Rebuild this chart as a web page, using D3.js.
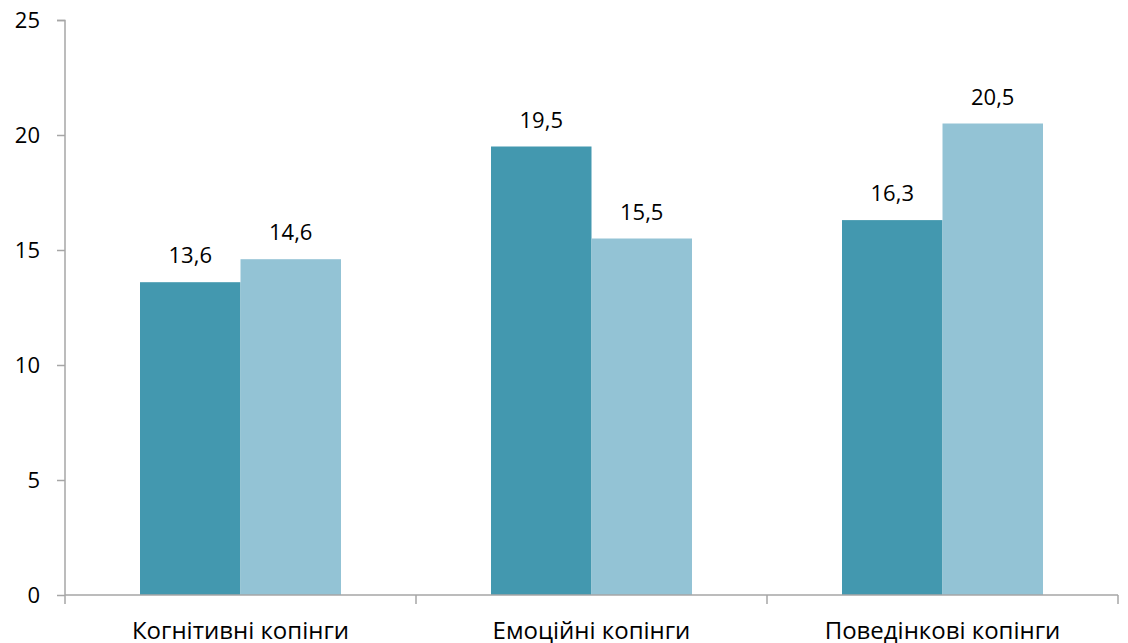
<!DOCTYPE html>
<html>
<head>
<meta charset="utf-8">
<script src="https://cdn.jsdelivr.net/npm/d3@7"></script>
<style>
  html, body { margin: 0; padding: 0; background: #fff; }
  svg { display: block; font-family: "Open Sans", "Noto Sans", sans-serif; }
</style>
</head>
<body>
<svg id="chart" width="1128" height="643"></svg>
<script>
// Coping strategy scores by category, two groups
const categories = ["Когнітивні копінги", "Емоційні копінги", "Поведінкові копінги"];
const seriesNames = ["Група 1", "Група 2"];
const group1 = [13.6, 19.5, 16.3];
const group2 = [14.6, 15.5, 20.5];
const yTicks = [0, 5, 10, 15, 20, 25];
const seriesColors = ["#4398AF", "#93C3D5"];

const svg = d3.select("#chart");
const axisColor = "#A6A6A6";

const x0 = d3.scaleBand().domain(categories).range([65, 1118]).padding(0);
const bw = x0.bandwidth();
const x1 = d3.scaleBand().domain(seriesNames).range([bw * 0.2137, bw * 0.7863]).padding(0);
const y = d3.scaleLinear().domain([0, 25]).range([595, 20]);

const rows = categories.map((c, i) => ({ cat: c, vals: [group1[i], group2[i]] }));

// bars
const g = svg.append("g");
const groups = g.selectAll("g.cat").data(rows).join("g")
  .attr("class", "cat")
  .attr("transform", d => `translate(${x0(d.cat)},0)`);

groups.selectAll("rect").data(d => d.vals.map((v, k) => ({ v, s: seriesNames[k], k })))
  .join("rect")
  .attr("x", d => x1(d.s))
  .attr("width", x1.bandwidth())
  .attr("y", d => y(d.v))
  .attr("height", d => y(0) - y(d.v))
  .attr("fill", d => seriesColors[d.k]);

// value labels
groups.selectAll("text.val").data(d => d.vals.map((v, k) => ({ v, s: seriesNames[k] })))
  .join("text")
  .attr("class", "val")
  .attr("x", d => x1(d.s) + x1.bandwidth() / 2)
  .attr("y", d => y(d.v) - 19)
  .attr("text-anchor", "middle")
  .attr("font-size", 22)
  .attr("fill", "#000")
  .text(d => d.v.toFixed(1).replace(".", ","));

// y axis
const yAxis = d3.axisLeft(y).tickValues(yTicks).tickSize(8).tickPadding(17);
const ya = svg.append("g").attr("transform", "translate(65,0)").call(yAxis);
ya.select(".domain").attr("stroke", axisColor).attr("stroke-width", 1.5).attr("d", "M-8,20.5H0V595");
ya.selectAll(".tick line").attr("stroke", axisColor).attr("stroke-width", 1.5);
ya.selectAll(".tick text").attr("font-size", 22).attr("fill", "#000")
  .attr("font-family", "'Open Sans', sans-serif");

// x axis with category boundary ticks
const xa = svg.append("g").attr("transform", "translate(0,595)");
xa.append("line").attr("x1", 65).attr("x2", x0.range()[1]).attr("y1", 0).attr("y2", 0)
  .attr("stroke", axisColor).attr("stroke-width", 1.5);
const bounds = categories.map(c => x0(c)).concat([x0.range()[1]]);
xa.selectAll("line.tk").data(bounds).join("line")
  .attr("class", "tk")
  .attr("x1", d => d).attr("x2", d => d)
  .attr("y1", 0).attr("y2", 9)
  .attr("stroke", axisColor).attr("stroke-width", 1.5);
xa.selectAll("text").data(categories).join("text")
  .attr("x", d => x0(d) + bw / 2)
  .attr("y", 44)
  .attr("text-anchor", "middle")
  .attr("font-size", 24)
  .attr("fill", "#000")
  .text(d => d);
</script>
</body>
</html>
